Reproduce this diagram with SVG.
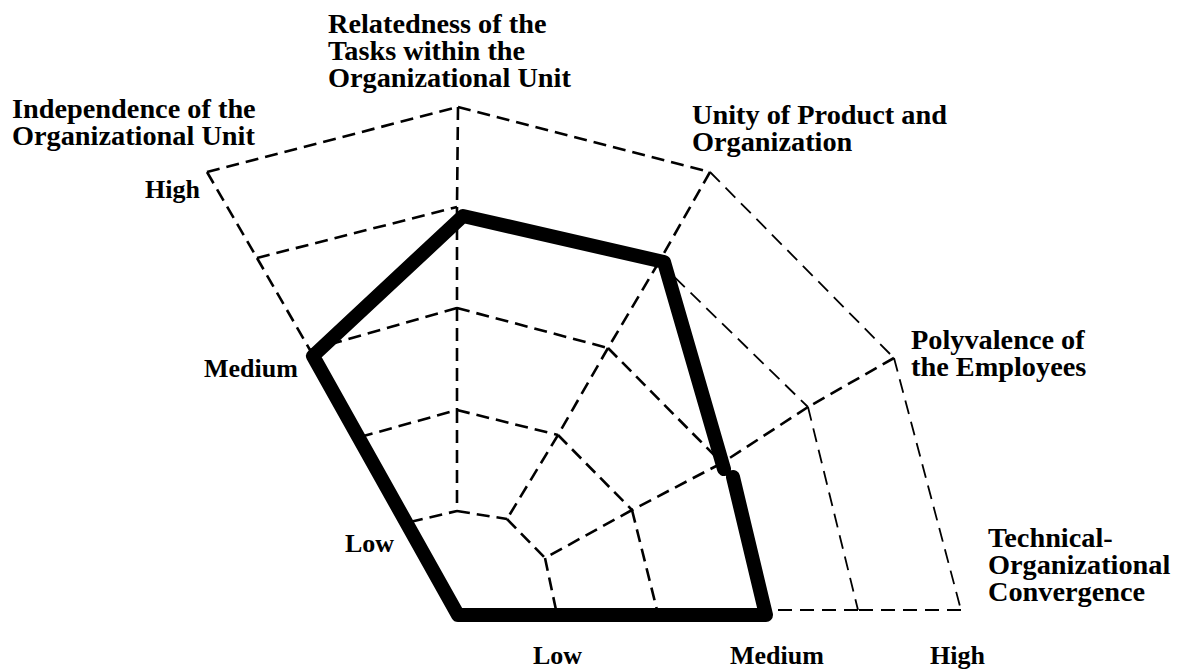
<svg xmlns="http://www.w3.org/2000/svg" width="1181" height="670" viewBox="0 0 1181 670">
  <style>
    .grid { fill: none; stroke: #000; stroke-width: 2.6; stroke-dasharray: 13 7; }
    .grid.thin { stroke-width: 1.8; stroke-dasharray: 14 8; }
    .profile { fill: none; stroke: #000; stroke-width: 14; stroke-linejoin: round; stroke-linecap: round; }
    .title { font-family: "Liberation Serif", "Times New Roman", serif; font-weight: bold; font-size: 28.3px; fill: #000; }
    .level { font-family: "Liberation Serif", "Times New Roman", serif; font-weight: bold; font-size: 26px; fill: #000; }
  </style>
  <rect width="1181" height="670" fill="#fff"/>

  <!-- dashed web: axes and level rings, one segment per cell edge -->
  <g id="connectors">
    <!-- left axis -->
    <line class="grid" x1="207" y1="172" x2="257" y2="258"/>
    <line class="grid" x1="257" y1="258" x2="310" y2="350"/>
    <line class="grid" x1="310" y1="350" x2="360" y2="437"/>
    <line class="grid" x1="360" y1="437" x2="410" y2="522"/>
    <!-- vertical axis -->
    <line class="grid" x1="458" y1="107" x2="457" y2="207"/>
    <line class="grid" x1="457" y1="207" x2="457" y2="308"/>
    <line class="grid" x1="457" y1="308" x2="457" y2="410"/>
    <line class="grid" x1="457" y1="410" x2="457" y2="511"/>
    <!-- third axis -->
    <line class="grid" x1="710" y1="172" x2="659" y2="262"/>
    <line class="grid" x1="659" y1="262" x2="608" y2="348"/>
    <line class="grid" x1="608" y1="348" x2="558" y2="435"/>
    <line class="grid" x1="558" y1="435" x2="507" y2="519"/>
    <!-- fourth axis -->
    <line class="grid" x1="894" y1="358" x2="808" y2="407"/>
    <line class="grid" x1="808" y1="407" x2="722" y2="463"/>
    <line class="grid" x1="722" y1="463" x2="632" y2="510"/>
    <line class="grid" x1="632" y1="510" x2="545" y2="558"/>
    <!-- bottom axis -->
    <line class="grid thin" x1="961" y1="610" x2="858" y2="610"/>
    <line class="grid thin" x1="858" y1="610" x2="768" y2="610"/>

    <!-- ring 1 -->
    <line class="grid" x1="410" y1="522" x2="457" y2="511"/>
    <line class="grid" x1="457" y1="511" x2="507" y2="519"/>
    <line class="grid" x1="507" y1="519" x2="545" y2="558"/>
    <line class="grid" x1="545" y1="558" x2="556" y2="610"/>
    <!-- ring 2 -->
    <line class="grid" x1="360" y1="437" x2="457" y2="410"/>
    <line class="grid" x1="457" y1="410" x2="558" y2="435"/>
    <line class="grid" x1="558" y1="435" x2="632" y2="510"/>
    <line class="grid" x1="632" y1="510" x2="657" y2="610"/>
    <!-- ring 3 -->
    <line class="grid" x1="310" y1="350" x2="457" y2="308"/>
    <line class="grid" x1="457" y1="308" x2="608" y2="348"/>
    <line class="grid" x1="608" y1="348" x2="722" y2="463"/>
    <!-- ring 4 -->
    <line class="grid" x1="257" y1="258" x2="457" y2="207"/>
    <line class="grid thin" x1="659" y1="262" x2="808" y2="407"/>
    <line class="grid thin" x1="808" y1="407" x2="858" y2="610"/>
    <!-- ring 5 -->
    <line class="grid" x1="207" y1="172" x2="458" y2="107"/>
    <line class="grid" x1="458" y1="107" x2="710" y2="172"/>
    <line class="grid thin" x1="710" y1="172" x2="894" y2="358"/>
    <line class="grid thin" x1="894" y1="358" x2="961" y2="610"/>
  </g>

  <!-- profile line: two strokes that meet with a small offset on the fourth axis -->
  <g id="profile">
    <polyline class="profile" points="724,469 664,262 463,216 313,356 458,615 766,615 733,477"/>
  </g>

  <!-- dimension titles -->
  <g id="node-relatedness">
    <text class="title" x="328" y="33">Relatedness of the<tspan x="328" y="60">Tasks within the</tspan><tspan x="328" y="87">Organizational Unit</tspan></text>
  </g>
  <g id="node-independence">
    <text class="title" x="12" y="118">Independence of the<tspan x="12" y="145">Organizational Unit</tspan></text>
  </g>
  <g id="node-unity">
    <text class="title" x="692" y="124">Unity of Product and<tspan x="692" y="151">Organization</tspan></text>
  </g>
  <g id="node-polyvalence">
    <text class="title" x="911" y="349">Polyvalence of<tspan x="911" y="376">the Employees</tspan></text>
  </g>
  <g id="node-convergence">
    <text class="title" x="988" y="547">Technical-<tspan x="988" y="574">Organizational</tspan><tspan x="988" y="601">Convergence</tspan></text>
  </g>

  <!-- level labels -->
  <g id="levels-left">
    <text class="level" x="145" y="198">High</text>
    <text class="level" x="204" y="377">Medium</text>
    <text class="level" x="345" y="552">Low</text>
  </g>
  <g id="levels-bottom">
    <text class="level" x="533" y="664">Low</text>
    <text class="level" x="730" y="664">Medium</text>
    <text class="level" x="930" y="664">High</text>
  </g>
</svg>
